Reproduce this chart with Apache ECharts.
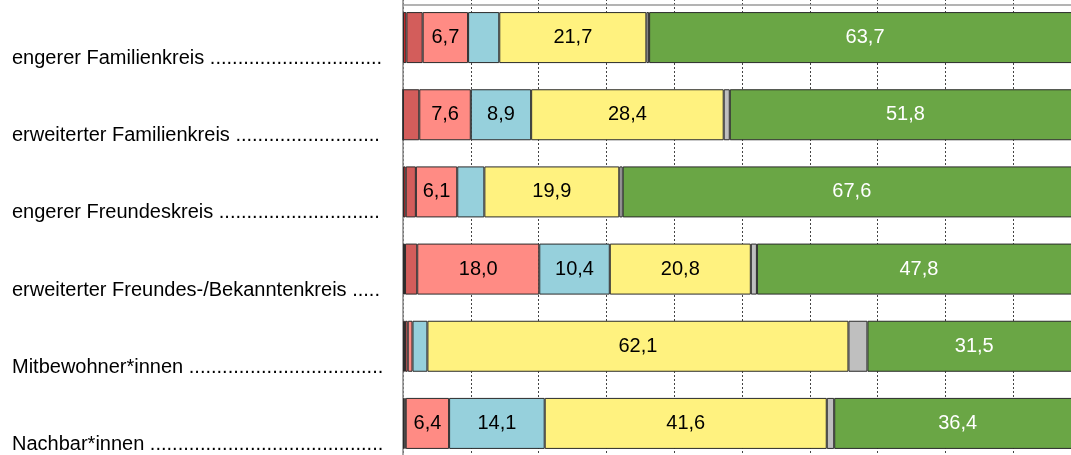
<!DOCTYPE html>
<html>
<head>
<meta charset="utf-8">
<script src="https://cdn.jsdelivr.net/npm/echarts@6/dist/echarts.min.js"></script>
<style>html,body{margin:0;padding:0;background:#fff;}#c{width:1071px;height:455px;}</style>
</head>
<body>
<div id="c"></div>
<script>
const categories = ['engerer Familienkreis', 'erweiterter Familienkreis', 'engerer Freundeskreis', 'erweiterter Freundes-/Bekanntenkreis', 'Mitbewohner*innen', 'Nachbar*innen'];
const darkRed = [0.5, 0, 0.4, 0.3, 0.3, 0.2];
const medRed = [2.4, 2.4, 1.5, 1.8, 0.4, 0.2];
const salmon = [6.7, 7.6, 6.1, 18.0, 0.7, 6.4];
const blue = [4.6, 8.9, 4.0, 10.4, 2.2, 14.1];
const yellow = [21.7, 28.4, 19.9, 20.8, 62.1, 41.6];
const gray = [0.4, 0.9, 0.5, 0.9, 2.8, 1.1];
const green = [63.7, 51.8, 67.6, 47.8, 31.5, 36.4];
const xTicks = [0, 10, 20, 30, 40, 50, 60, 70, 80, 90, 100];

const seriesDefs = [
  {data: darkRed, color: '#C0282A', text: '#000'},
  {data: medRed, color: '#D35D5B', text: '#000'},
  {data: salmon, color: '#FF8B84', text: '#000'},
  {data: blue, color: '#96D0DC', text: '#000'},
  {data: yellow, color: '#FFF27F', text: '#000'},
  {data: gray, color: '#BFBFBF', text: '#000'},
  {data: green, color: '#6AA645', text: '#fff'}
];
const dots = ' ' + '.'.repeat(120);
const chart = echarts.init(document.getElementById('c'), null, {renderer: 'canvas'});
chart.setOption({
  animation: false,
  backgroundColor: '#fff',
  grid: {left: 403, width: 678, top: -1, height: 463, containLabel: false, outerBoundsMode: 'none'},
  xAxis: [{
    type: 'value', min: xTicks[0], max: xTicks[xTicks.length - 1], interval: 10,
    position: 'top', offset: -6,
    axisLine: {show: true, lineStyle: {color: '#9a9a9a', width: 1.5}},
    axisTick: {show: false}, axisLabel: {show: false},
    splitLine: {show: true, lineStyle: {color: '#444', type: [2, 2], width: 1}}
  }],
  yAxis: {
    type: 'category', data: categories, inverse: true,
    axisLine: {show: true, lineStyle: {color: '#8a8a8a', width: 1.5}},
    axisTick: {show: false},
    splitLine: {show: false},
    axisLabel: {
      align: 'left', verticalAlign: 'top', lineHeight: 42,
      margin: 391, fontSize: 20, color: '#000',
      fontFamily: 'Liberation Sans, Arial, sans-serif',
      width: 373, overflow: 'truncate', ellipsis: '',
      formatter: v => v + dots
    }
  },
  series: seriesDefs.map(s => ({
    type: 'bar', stack: 'all', data: s.data, barWidth: 51,
    itemStyle: {color: s.color, borderColor: '#2a2a2a', borderWidth: 1},
    label: {
      show: true, position: 'inside', color: s.text, fontSize: 20,
      fontFamily: 'Liberation Sans, Arial, sans-serif',
      formatter: p => p.value >= 5 ? p.value.toFixed(1).replace('.', ',') : ''
    }
  }))
});
</script>
</body>
</html>
